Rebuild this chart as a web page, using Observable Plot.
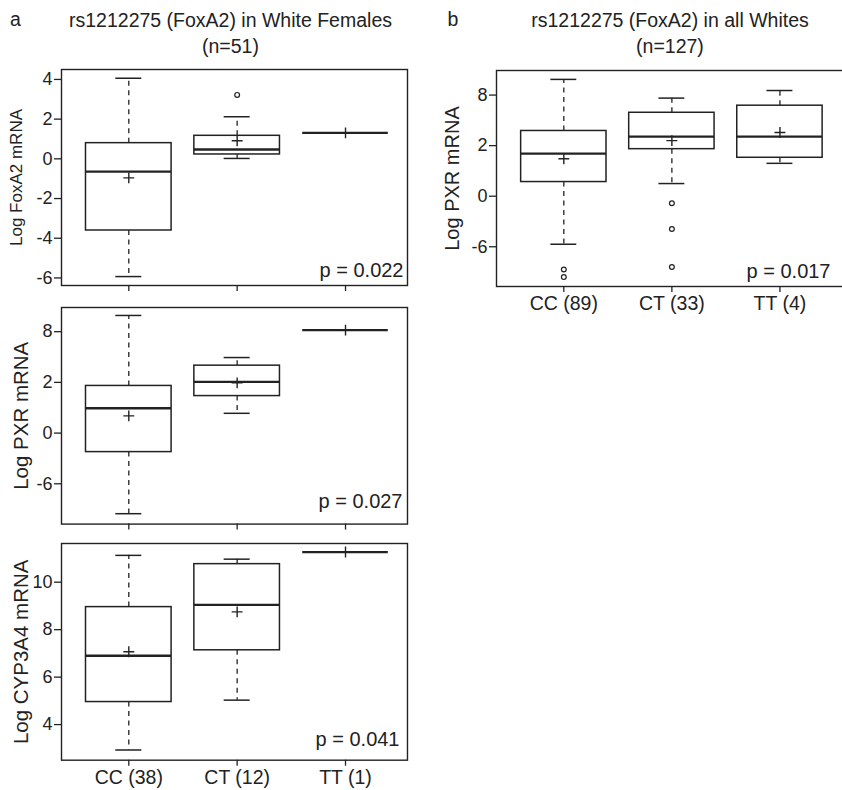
<!DOCTYPE html>
<html>
<head>
<meta charset="utf-8">
<script src="https://cdn.jsdelivr.net/npm/d3@7"></script>
<script src="https://cdn.jsdelivr.net/npm/@observablehq/plot@0.6"></script>
<style>
  html, body { margin: 0; padding: 0; background: white; }
  #root { position: relative; width: 842px; height: 790px; overflow: hidden; background: white;
          font-family: "Liberation Sans", Arial, sans-serif; color: #222; }
  .panel { position: absolute; }
  #overlay { position: absolute; left: 0; top: 0; }
</style>
</head>
<body>
<div id="root"><svg id="overlay" width="842" height="790"></svg></div>
<script>
// ---------- data ----------
const genotypes = ["CC", "CT", "TT"];
const femaleLabels = ["CC (38)", "CT (12)", "TT (1)"];
const allLabels = ["CC (89)", "CT (33)", "TT (4)"];

// Panel a1: Log FoxA2 mRNA, white females
const foxMin  = [-5.93, 0.02, 1.31];
const foxQ1   = [-3.61, 0.22, 1.31];
const foxMed  = [-0.64, 0.47, 1.31];
const foxQ3   = [0.79, 1.16, 1.31];
const foxMax  = [4.06, 2.12, 1.31];
const foxMean = [-0.96, 0.91, 1.31];
const foxOutliers = [[], [3.22], []];

// Panel a2: Log PXR mRNA, white females (axis units = tick steps, labelled below)
const pxrTickValues = [-1, 0, 1, 2];
const pxrTickLabels = ["-6", "0", "2", "8"];
const pxrfMin  = [-1.59, 0.39, 2.03];
const pxrfQ1   = [-0.375, 0.73, 2.03];
const pxrfMed  = [0.49, 1.01, 2.03];
const pxrfQ3   = [0.93, 1.33, 2.03];
const pxrfMax  = [2.32, 1.49, 2.03];
const pxrfMean = [0.34, 0.99, 2.03];
const pxrfOutliers = [[], [], []];

// Panel a3: Log CYP3A4 mRNA, white females
const cypMin  = [2.93, 5.03, 11.27];
const cypQ1   = [4.95, 7.13, 11.27];
const cypMed  = [6.90, 9.04, 11.27];
const cypQ3   = [8.95, 10.76, 11.27];
const cypMax  = [11.13, 10.97, 11.27];
const cypMean = [7.07, 8.75, 11.27];
const cypOutliers = [[], [], []];

// Panel b: Log PXR mRNA, all whites
const pxraMin  = [-0.95, 0.25, 0.65];
const pxraQ1   = [0.28, 0.93, 0.76];
const pxraMed  = [0.84, 1.18, 1.18];
const pxraQ3   = [1.29, 1.65, 1.79];
const pxraMax  = [2.31, 1.94, 2.09];
const pxraMean = [0.74, 1.10, 1.26];
const pxraOutliers = [[-1.45, -1.60], [-0.14, -0.65, -1.40], []];

// ---------- drawing ----------
const INK = "#222";
const BOX_HALF = 0.395;   // box half-width in x units
const CAP_HALF = 0.12;    // whisker cap half-width

function rowsFrom(mins, q1, med, q3, maxs, means) {
  return genotypes.map((g, k) => ({
    g, i: k + 1, min: mins[k], q1: q1[k], med: med[k], q3: q3[k], max: maxs[k], mean: means[k]
  }));
}
function outlierRows(outs) {
  return outs.flatMap((arr, k) => arr.map(v => ({ i: k + 1, v })));
}

function panel(cfg) {
  const rows = rowsFrom(cfg.min, cfg.q1, cfg.med, cfg.q3, cfg.max, cfg.mean);
  const outs = outlierRows(cfg.outliers);
  const boxed = rows.filter(d => d.q1 !== d.q3);
  const mt = 10, mb = 45;
  const ml = cfg.frame.left - cfg.svgLeft;
  const w = cfg.svgWidth;
  const mr = w - (cfg.frame.right - cfg.svgLeft);
  const h = mt + (cfg.frame.bottom - cfg.frame.top) + mb;
  const yTickFmt = cfg.yTickLabels ? (d => cfg.yTickLabels[cfg.yTicks.indexOf(d)]) : (d => String(d));
  const chart = Plot.plot({
    width: w, height: h,
    marginLeft: ml, marginRight: mr, marginTop: mt, marginBottom: mb,
    x: { type: "linear", domain: cfg.xDomain },
    y: { type: "linear", domain: cfg.yDomain },
    style: { background: "transparent", overflow: "visible", maxWidth: "none",
             fontFamily: "'Liberation Sans', Arial, sans-serif", color: INK },
    marks: [
      Plot.axisY({ ticks: cfg.yTicks, tickFormat: yTickFmt, tickSize: 7, tickPadding: 2,
                   fontSize: 18, label: null, strokeWidth: 1.3 }),
      Plot.axisY({ ticks: [], label: cfg.yLabel, labelAnchor: "center", labelArrow: "none",
                   labelOffset: cfg.labelOffset, fontSize: cfg.labelSize, tickSize: 0 }),
      Plot.axisX({ ticks: [1, 2, 3], tickFormat: d => cfg.xLabels ? cfg.xLabels[d - 1] : "",
                   tickSize: 6, tickPadding: 4, fontSize: 19.5, label: null, strokeWidth: 1.3 }),
      // whiskers
      Plot.ruleX(boxed, { x: "i", y1: "q3", y2: "max", stroke: INK, strokeWidth: 1.3, strokeDasharray: "5,4.5" }),
      Plot.ruleX(boxed, { x: "i", y1: "q1", y2: "min", stroke: INK, strokeWidth: 1.3, strokeDasharray: "5,4.5" }),
      Plot.ruleY(boxed, { y: "max", x1: d => d.i - CAP_HALF, x2: d => d.i + CAP_HALF, stroke: INK, strokeWidth: 1.5 }),
      Plot.ruleY(boxed, { y: "min", x1: d => d.i - CAP_HALF, x2: d => d.i + CAP_HALF, stroke: INK, strokeWidth: 1.5 }),
      // boxes
      Plot.rect(boxed, { x1: d => d.i - BOX_HALF, x2: d => d.i + BOX_HALF, y1: "q1", y2: "q3",
                         fill: "white", stroke: INK, strokeWidth: 1.5 }),
      // medians
      Plot.ruleY(rows, { y: "med", x1: d => d.i - BOX_HALF, x2: d => d.i + BOX_HALF, stroke: INK, strokeWidth: 2.3 }),
      // means
      Plot.dot(rows, { x: "i", y: "mean", symbol: "plus", r: 3.6, stroke: INK, strokeWidth: 1.4 }),
      // outliers
      Plot.dot(outs, { x: "i", y: "v", r: 2.4, stroke: INK, strokeWidth: 1.2, fill: "white" }),
      // p value
      Plot.text([cfg.pText], { text: d => d, frameAnchor: "bottom-right", textAnchor: "end",
                               lineAnchor: "bottom", dx: -cfg.pDx, dy: -cfg.pDy, fontSize: 20, fill: INK }),
      Plot.frame({ stroke: INK, strokeWidth: 1.4 })
    ]
  });
  const holder = document.createElement("div");
  holder.className = "panel";
  holder.style.left = cfg.svgLeft + "px";
  holder.style.top = (cfg.frame.top - mt) + "px";
  holder.appendChild(chart);
  document.getElementById("root").appendChild(holder);
}

panel({
  min: foxMin, q1: foxQ1, med: foxMed, q3: foxQ3, max: foxMax, mean: foxMean, outliers: foxOutliers,
  yDomain: [-6.38, 4.50], yTicks: [-6, -4, -2, 0, 2, 4], yLabel: "Log FoxA2 mRNA", labelSize: 17, labelOffset: 52,
  xDomain: [0.379, 3.572], xLabels: null, pText: "p = 0.022", pDx: 4, pDy: 9,
  frame: { left: 61, right: 407, top: 69, bottom: 285 }, svgLeft: 0, svgWidth: 420
});
panel({
  min: pxrfMin, q1: pxrfQ1, med: pxrfMed, q3: pxrfQ3, max: pxrfMax, mean: pxrfMean, outliers: pxrfOutliers,
  yDomain: [-1.795, 2.477], yTicks: pxrTickValues, yTickLabels: pxrTickLabels, yLabel: "Log PXR mRNA",
  labelSize: 20.5, labelOffset: 48,
  xDomain: [0.379, 3.572], xLabels: null, pText: "p = 0.027", pDx: 5, pDy: 16,
  frame: { left: 61, right: 407, top: 306.7, bottom: 523.3 }, svgLeft: 0, svgWidth: 420
});
panel({
  min: cypMin, q1: cypQ1, med: cypMed, q3: cypQ3, max: cypMax, mean: cypMean, outliers: cypOutliers,
  yDomain: [2.50, 11.63], yTicks: [4, 6, 8, 10], yLabel: "Log CYP3A4 mRNA", labelSize: 20.5, labelOffset: 48,
  xDomain: [0.379, 3.572], xLabels: femaleLabels, pText: "p = 0.041", pDx: 8, pDy: 14,
  frame: { left: 61, right: 407, top: 543.3, bottom: 760 }, svgLeft: 0, svgWidth: 420
});
panel({
  min: pxraMin, q1: pxraQ1, med: pxraMed, q3: pxraQ3, max: pxraMax, mean: pxraMean, outliers: pxraOutliers,
  yDomain: [-1.786, 2.486], yTicks: pxrTickValues, yTickLabels: pxrTickLabels, yLabel: "Log PXR mRNA",
  labelSize: 20, labelOffset: 52,
  xDomain: [0.377, 3.616], xLabels: allLabels, pText: "p = 0.017", pDx: 16, pDy: 9,
  frame: { left: 496, right: 846, top: 70, bottom: 286 }, svgLeft: 420, svgWidth: 440
});

// titles
const titles = [
  { t: "a", x: 10, y: 26, anchor: "start" },
  { t: "rs1212275 (FoxA2) in White Females", x: 230.5, y: 27, anchor: "middle" },
  { t: "(n=51)", x: 230.5, y: 52.5, anchor: "middle" },
  { t: "b", x: 447.5, y: 26, anchor: "start" },
  { t: "rs1212275 (FoxA2) in all Whites", x: 670, y: 27, anchor: "middle" },
  { t: "(n=127)", x: 670, y: 53, anchor: "middle" }
];
const ov = d3.select("#overlay");
ov.selectAll("text").data(titles).join("text")
  .attr("x", d => d.x).attr("y", d => d.y)
  .attr("text-anchor", d => d.anchor)
  .attr("font-family", "'Liberation Sans', Arial, sans-serif")
  .attr("font-size", 19.5).attr("fill", INK)
  .text(d => d.t);
document.getElementById("root").appendChild(document.getElementById("overlay"));
</script>
</body>
</html>
